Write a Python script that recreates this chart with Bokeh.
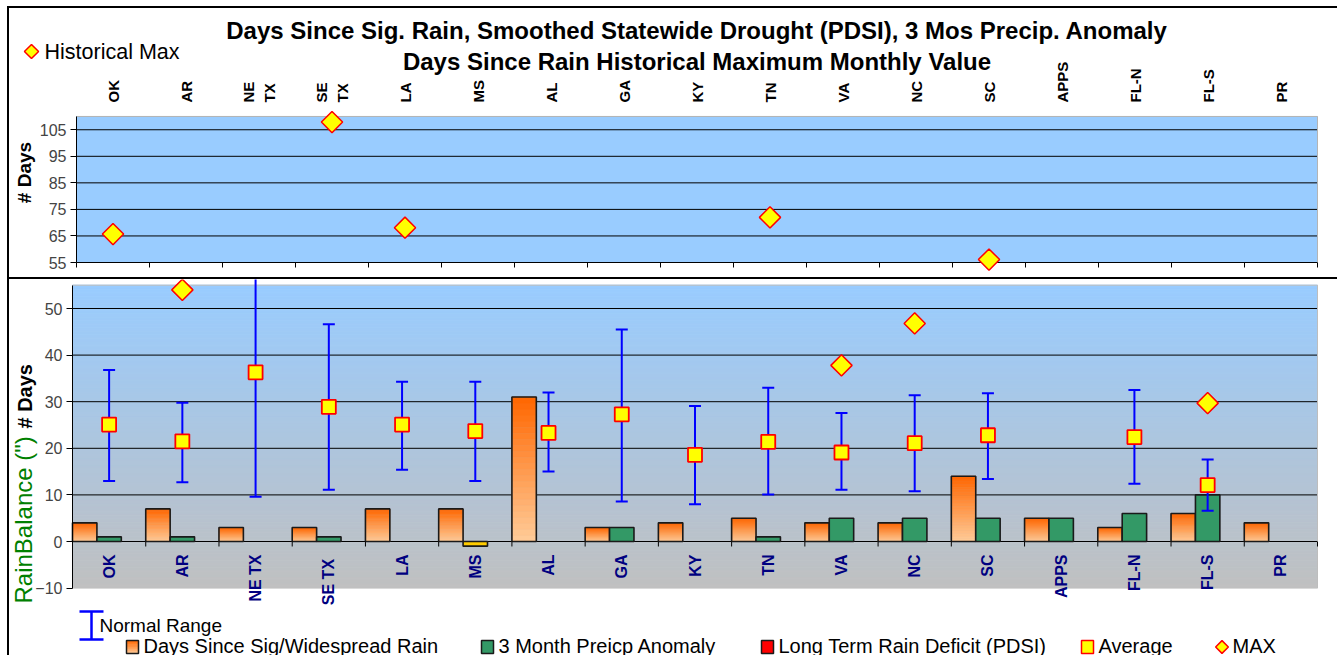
import numpy as np
from math import pi
from bokeh.plotting import figure
from bokeh.layouts import column
from bokeh.models import Range1d, FixedTicker
from bokeh.core.properties import value
from bokeh.embed import file_html
from bokeh.resources import INLINE

nan = float("nan")

# ---------------- data ----------------
categories = ["OK", "AR", "NE TX", "SE TX", "LA", "MS", "AL", "GA", "KY", "TN",
              "VA", "NC", "SC", "APPS", "FL-N", "FL-S", "PR"]
top_tick_labels = ["OK", "AR", "NE\nTX", "SE\nTX", "LA", "MS", "AL", "GA", "KY", "TN",
                   "VA", "NC", "SC", "APPS", "FL-N", "FL-S", "PR"]
bottom_tick_labels = ["OK", "AR", "NE TX", "SE  TX", "LA", "MS", "AL", "GA", "KY", "TN",
                      "VA", "NC", "SC", "APPS", "FL-N", "FL-S", "PR"]
days_since_rain = [4, 7, 3, 3, 7, 7, 31, 3, 4, 5, 4, 4, 14, 5, 3, 6, 4]
precip_anomaly_3mo = [1, 1, 0, 1, 0, -1, 0, 3, 0, 1, 5, 5, 5, 5, 6, 10, 0]
pdsi_deficit = [0, 0, 0, 0, 0, 0, 0, 0, 0, 0, 0, 0, 0, 0, 0, 0, 0]
average_days = [25.1, 21.5, 36.3, 28.9, 25.1, 23.7, 23.3, 27.3, 18.6, 21.4,
                19.1, 21.1, 22.8, nan, 22.4, 12.1, nan]
normal_low = [13.0, 12.7, 9.6, 11.1, 15.4, 13.0, 15.0, 8.6, 8.0, 10.1,
              11.1, 10.8, 13.4, nan, 12.4, 6.6, nan]
normal_high = [36.8, 29.8, 62.0, 46.6, 34.3, 34.3, 32.0, 45.5, 29.1, 33.0,
               27.6, 31.4, 31.8, nan, 32.5, 17.6, nan]
historical_max = [65.7, 54.0, nan, 107.9, 68.1, nan, nan, nan, nan, 72.0,
                  37.8, 46.8, 56.1, nan, nan, 29.7, nan]
top_ticks = [55, 65, 75, 85, 95, 105]
bottom_ticks = [-10, 0, 10, 20, 30, 40, 50]
title_lines = ["Days Since Sig. Rain, Smoothed Statewide Drought (PDSI), 3 Mos Precip. Anomaly",
               "Days Since Rain Historical Maximum Monthly Value"]
legend_labels = ["Days Since Sig/Widespread Rain", "3 Month Preicp Anomaly",
                 "Long Term Rain Deficit (PDSI)", "Average", "MAX"]

# ---------------- styling helpers ----------------
FONT = "Liberation Sans"
N = len(categories)
xc = [i + 0.5 for i in range(N)]

ORANGE = (255, 102, 0)
PEACH = (255, 204, 153)
SKY = (153, 204, 255)
GRAY = (192, 192, 192)
GREEN = "#339966"
GOLD = "#FFCC00"
YELLOW = "#FFFF00"
RED = "#FF0000"
BLUE = "#0000FF"
NAVY = "#000080"
OUTLINE = "#1A1A1A"


def mix(c0, c1, t):
    return "#%02x%02x%02x" % tuple(int(round(a + (b - a) * t)) for a, b in zip(c0, c1))


# page geometry (page pixels): column at margin (7, 6) with a 2px border
CX0, CY0 = 9, 8             # content origin
W = 1328
PAGE_RIGHT = CX0 + W
H_A = 269                   # header + upper panel
H_B = 378                   # lower panel + legend
B_TOP = CY0 + H_A + 2       # lower figure starts after the separator border

# upper panel: plot area x 76..1317, 55 days at page y 262, 2.655 px per day
A_L, A_R = 76, 1317
PPX_A = (A_R - A_L) / N
PPU_A = 2.655


def ax(px):
    return (px - A_L) / PPX_A


def ay(py):
    return 55 + (262 - py) / PPU_A


# lower panel: plot area x 72..1317, 0 at page y 541, 4.66 px per unit
B_L, B_R = 72, 1317
PPX_B = (B_R - B_L) / N
PPU_B = 4.66


def bx(px):
    return (px - B_L) / PPX_B


def by(py):
    return (541 - py) / PPU_B


def style_yaxis(p, ticks, bounds):
    p.yaxis.fixed_location = 0
    p.yaxis.bounds = bounds
    p.yaxis.ticker = FixedTicker(ticks=ticks)
    p.yaxis.major_label_text_font = FONT
    p.yaxis.major_label_text_font_size = "16px"
    p.yaxis.major_label_standoff = 4
    p.yaxis.major_tick_in = 0
    p.yaxis.major_tick_out = 6
    p.yaxis.minor_tick_line_color = None
    p.yaxis.axis_line_color = "black"
    p.ygrid.visible = False


# ================= upper figure: title, legend, historical max > 55 =================
top = figure(width=W, height=H_A,
             x_range=Range1d(ax(CX0), ax(PAGE_RIGHT)),
             y_range=Range1d(ay(CY0 + H_A), ay(CY0)),
             x_axis_type=None,
             min_border_left=0, min_border_right=0, min_border_top=0, min_border_bottom=0,
             background_fill_color="white", outline_line_color=None,
             toolbar_location=None, output_backend="svg")
style_yaxis(top, top_ticks, (55, 110))

# plot-area background, grid lines and outline
top.quad(left=0, right=N, bottom=55, top=110, fill_color="#99CCFF",
         line_color="#99CCFF", level="image")
top.segment(x0=0, x1=N, y0=top_ticks, y1=top_ticks, line_color="black",
            line_width=1, level="underlay")
top.segment(x0=[0, N], x1=[N, N], y0=[110, 55], y1=[110, 110], line_color="#B4B4B4",
            line_width=1, level="underlay")
# category tick marks below the panel
top.segment(x0=list(range(N + 1)), y0=55, x1=list(range(N + 1)), y1=55 - 5 / PPU_A,
            line_color="black", line_width=1)

top_x = [x for x, v in zip(xc, historical_max) if v == v and v > 55]
top_v = [v for v in historical_max if v == v and v > 55]
top.scatter(x=top_x, y=top_v, marker="square", angle=pi / 4, size=15,
            fill_color=YELLOW, line_color=RED, line_width=1.5)

# titles and category labels
top.text(x=[N / 2, N / 2], y=[ay(30), ay(61)], text=title_lines,
         text_font=value(FONT), text_font_style="bold", text_font_size="24px",
         text_align="center", text_baseline="middle", text_color="black")
top.text(x=xc, y=[ay(102)] * N, text=top_tick_labels, angle=pi / 2,
         text_align="left", text_baseline="middle", text_font=value(FONT),
         text_font_style="bold", text_font_size="15px", text_line_height=1.2,
         text_color="black")

# "Historical Max" legend and axis title
top.scatter(x=[ax(31)], y=[ay(51)], marker="square", angle=pi / 4, size=10,
            fill_color=YELLOW, line_color=RED, line_width=1.5)
top.text(x=[ax(44)], y=[ay(51)], text=["Historical Max"], text_align="left",
         text_baseline="middle", text_font=value(FONT), text_font_size="21.5px",
         text_color="black")
top.text(x=[ax(24)], y=[ay(172)], text=["# Days"], angle=pi / 2,
         text_align="center", text_baseline="middle", text_font=value(FONT),
         text_font_style="bold", text_font_size="19px", text_color="black")

# ================= lower figure =================
bot = figure(width=W, height=H_B,
             x_range=Range1d(bx(CX0), bx(PAGE_RIGHT)),
             y_range=Range1d(by(B_TOP + H_B), by(B_TOP)),
             x_axis_type=None,
             min_border_left=0, min_border_right=0, min_border_top=0, min_border_bottom=0,
             background_fill_color="white", outline_line_color=None,
             toolbar_location=None, output_backend="svg",
             styles={"border-top": "2px solid black"})
style_yaxis(bot, bottom_ticks, (-10, 55))

# gradient plot-area background (sky blue at top to gray at bottom)
NBG = 130
edges = np.linspace(-10, 55, NBG + 1)
bg_cols = [mix(GRAY, SKY, (k + 0.5) / NBG) for k in range(NBG)]
bot.quad(left=0, right=N, bottom=edges[:-1], top=edges[1:],
         fill_color=bg_cols, line_color=bg_cols, line_width=1, level="image")
grid_vals = [t for t in bottom_ticks if t >= 0]
bot.segment(x0=0, x1=N, y0=grid_vals, y1=grid_vals, line_color="black",
            line_width=1, level="underlay")
bot.segment(x0=[0, N], x1=[N, N], y0=[55, -10], y1=[55, 55], line_color="#BDBDBD",
            line_width=1, level="underlay")

# days since rain bars: vertical orange gradient slices, then outline
NS = 24
L, R, B, T, C = [], [], [], [], []
for i, d in enumerate(days_since_rain):
    if d > 0:
        for j in range(NS):
            L.append(i)
            R.append(i + 1 / 3)
            B.append(d * j / NS)
            T.append(d * (j + 1) / NS)
            C.append(mix(PEACH, ORANGE, (j + 0.5) / NS))
bot.quad(left=L, right=R, bottom=B, top=T, fill_color=C, line_color=C, line_width=0.6)
di = [i for i, d in enumerate(days_since_rain) if d > 0]
bot.quad(left=di, right=[i + 1 / 3 for i in di], bottom=0,
         top=[days_since_rain[i] for i in di], fill_color=None,
         line_color=OUTLINE, line_width=1.6)

# 3 month anomaly bars
ai = [i for i, a in enumerate(precip_anomaly_3mo) if a != 0]
bot.quad(left=[i + 1 / 3 for i in ai], right=[i + 2 / 3 for i in ai],
         bottom=[min(0, precip_anomaly_3mo[i]) for i in ai],
         top=[max(0, precip_anomaly_3mo[i]) for i in ai],
         fill_color=[GREEN if precip_anomaly_3mo[i] > 0 else GOLD for i in ai],
         line_color=OUTLINE, line_width=1.6)

# long term deficit bars (PDSI)
pdi = [i for i, p in enumerate(pdsi_deficit) if p != 0]
if pdi:
    bot.quad(left=[i + 2 / 3 for i in pdi], right=[i + 1 for i in pdi],
             bottom=[min(0, pdsi_deficit[i]) for i in pdi],
             top=[max(0, pdsi_deficit[i]) for i in pdi],
             fill_color=RED, line_color=OUTLINE, line_width=1.6)

# normal range error bars
bot.segment(x0=xc, y0=normal_low, x1=xc, y1=normal_high, line_color=BLUE, line_width=2)
bot.scatter(x=xc, y=normal_low, marker="dash", size=12, line_color=BLUE, line_width=2)
bot.scatter(x=xc, y=normal_high, marker="dash", size=12, line_color=BLUE, line_width=2)

# average squares
bot.scatter(x=xc, y=average_days, marker="square", size=14,
            fill_color=YELLOW, line_color=RED, line_width=1.8)

# max diamonds (values at or below 55)
bm_x = [x for x, v in zip(xc, historical_max) if v == v and v <= 55]
bm_v = [v for v in historical_max if v == v and v <= 55]
bot.scatter(x=bm_x, y=bm_v, marker="square", angle=pi / 4, size=15,
            fill_color=YELLOW, line_color=RED, line_width=1.5)

# category tick marks along the zero line and category labels
bot.segment(x0=list(range(N + 1)), y0=0, x1=list(range(N + 1)), y1=by(546),
            line_color="black", line_width=1)
bot.text(x=xc, y=by(554), text=bottom_tick_labels, angle=pi / 2,
         text_align="right", text_baseline="middle", text_font=value(FONT),
         text_font_style="bold", text_font_size="16px", text_color=NAVY)

# left axis title (two colours)
bot.text(x=[bx(22.5)], y=[by(603)], text=['RainBalance (")'], angle=pi / 2,
         text_align="left", text_baseline="middle", text_color="#008000",
         text_font=value(FONT), text_font_size="24px")
bot.text(x=[bx(24.5)], y=[by(428)], text=["# Days"], angle=pi / 2,
         text_align="left", text_baseline="middle", text_color="black",
         text_font=value(FONT), text_font_style="bold", text_font_size="20px")

# ---------------- bottom legend ----------------
ROW1, ROW2 = 625, 645
SQ_T, SQ_B = 640, 653
bot.segment(x0=[bx(91), bx(79), bx(79)], y0=[by(611), by(611), by(639)],
            x1=[bx(91), bx(103), bx(103)], y1=[by(639), by(611), by(639)],
            line_color=BLUE, line_width=2.5)
bot.text(x=[bx(99)], y=[by(ROW1)], text=["Normal Range"], text_font=value(FONT),
         text_font_size="19px", text_align="left", text_baseline="middle", text_color="black")

NL = 6
sl_cols = [mix(PEACH, ORANGE, (j + 0.5) / NL) for j in range(NL)]
bot.quad(left=bx(126), right=bx(138),
         bottom=[by(SQ_B - (SQ_B - SQ_T) * j / NL) for j in range(NL)],
         top=[by(SQ_B - (SQ_B - SQ_T) * (j + 1) / NL) for j in range(NL)],
         fill_color=sl_cols, line_color=sl_cols, line_width=0.6)
sw_left = [126, 481, 761, 1081]
sw_fill = [None, GREEN, RED, YELLOW]
sw_line = [OUTLINE, OUTLINE, OUTLINE, RED]
for l, f, c in zip(sw_left, sw_fill, sw_line):
    bot.quad(left=bx(l), right=bx(l + 12), bottom=by(SQ_B), top=by(SQ_T),
             fill_color=f, line_color=c, line_width=1.5)
bot.scatter(x=[bx(1221.5)], y=[by((SQ_T + SQ_B) / 2)], marker="square", angle=pi / 4,
            size=9, fill_color=YELLOW, line_color=RED, line_width=1.5)
bot.text(x=[bx(143), bx(498), bx(778), bx(1098), bx(1232)], y=[by(ROW2)] * 5,
         text=legend_labels, text_font=value(FONT), text_font_size="20px",
         text_align="left", text_baseline="middle", text_color="black")

layout = column(top, bot, margin=(6, 0, 0, 7),
                styles={"border-left": "2px solid black", "border-top": "2px solid black"})

open("out.html", "w").write(file_html(layout, INLINE))
